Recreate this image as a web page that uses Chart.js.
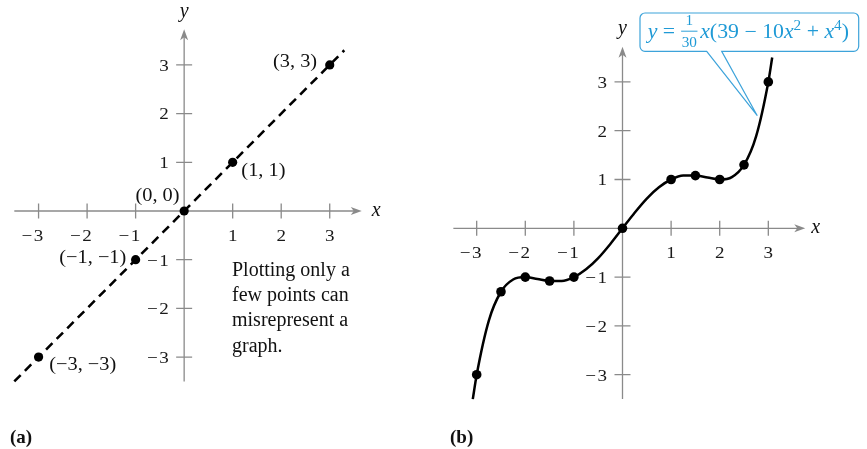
<!DOCTYPE html>
<html>
<head>
<meta charset="utf-8">
<script src="https://cdn.jsdelivr.net/npm/chart.js@4.4.1/dist/chart.umd.min.js"></script>
<style>
  html, body { margin: 0; padding: 0; background: #fff; }
  #wrap { position: relative; width: 867px; height: 449px; }
  canvas { position: absolute; top: 0; }
  #chartA { left: 0; }
  #chartB { left: 433px; }
</style>
</head>
<body>
<div id="wrap">
  <canvas id="chartA" width="433" height="449"></canvas>
  <canvas id="chartB" width="434" height="449"></canvas>
</div>
<script>
// ---- data: panel (a) ----
const pointsAX = [-3, -1, 0, 1, 3];
const pointsAY = [-3, -1, 0, 1, 3];
const pointLabelsA = ["(\u22123, \u22123)", "(\u22121, \u22121)", "(0, 0)", "(1, 1)", "(3, 3)"];
const lineAX = [-3.5, 3.3];
const lineAY = [-3.5, 3.3];
const noteLines = ["Plotting only a", "few points can", "misrepresent a", "graph."];

// ---- data: panel (b) ----
const pointsBX = [-3, -2.5, -2, -1.5, -1, 0, 1, 1.5, 2, 2.5, 3];
const pointsBY = [-3, -1.3, -1, -1.08, -1, 0, 1, 1.08, 1, 1.3, 3];
const curveBX = [-3.08, -3, -2.75, -2.5, -2.25, -2, -1.75, -1.5, -1.25, -1, -0.75, -0.5, -0.25, 0,
                 0.25, 0.5, 0.75, 1, 1.25, 1.5, 1.75, 2, 2.25, 2.5, 2.75, 3, 3.08];
const curveBY = [-3.5, -3, -1.89, -1.3, -1.05, -1, -1.04, -1.08, -1.08, -1, -0.84, -0.61, -0.32, 0,
                 0.32, 0.61, 0.84, 1, 1.08, 1.08, 1.04, 1, 1.05, 1.3, 1.89, 3, 3.5];

// ---- tick labels (shared) ----
const xTicks = [-3, -2, -1, 1, 2, 3];
const yTicks = [-3, -2, -1, 1, 2, 3];

const SERIF = '"Liberation Serif", "Times New Roman", serif';
const AXIS = "#8a8a8a";
const BLUE = "#1f9ad6";

// padding so that value 0 lands on a given pixel with a given unit size
function pad(origin, unit, min, max, size, invert) {
  if (!invert) return [origin + unit * min, size - (origin + unit * max)];
  return [origin - unit * max, size - (origin - unit * min)];
}

function text(ctx, s, x, y, font, align, sx) {
  sx = sx || 1;
  ctx.save();
  ctx.font = font;
  ctx.textBaseline = "alphabetic";
  const w = ctx.measureText(s).width * sx;
  let left = x;
  if (align === "right") left = x - w;
  else if (align === "center") left = x - w / 2;
  ctx.translate(left, y);
  ctx.scale(sx, 1);
  ctx.textAlign = "left";
  ctx.fillText(s, 0, 0);
  ctx.restore();
}

function tickNum(ctx, v, x, y, mode) {
  const font = "17px " + SERIF, sx = 1.12;
  ctx.font = font;
  const digit = String(Math.abs(v));
  const dw = ctx.measureText(digit).width * sx;
  const mw = ctx.measureText("\u2212").width * sx;
  let digitLeft;
  if (mode === "center") digitLeft = x - dw / 2;
  else digitLeft = x - dw;
  text(ctx, digit, digitLeft, y, font, "left", sx);
  if (v < 0) text(ctx, "\u2212", digitLeft - 1.5 - mw, y, font, "left", sx);
}

function arrowhead(ctx, tx, ty, dx, dy) {
  const L = 11, W = 4, N = 3;
  const px = -dy, py = dx;
  ctx.beginPath();
  ctx.moveTo(tx, ty);
  ctx.lineTo(tx - dx * L + px * W, ty - dy * L + py * W);
  ctx.lineTo(tx - dx * (L - N), ty - dy * (L - N));
  ctx.lineTo(tx - dx * L - px * W, ty - dy * L - py * W);
  ctx.closePath();
  ctx.fill();
}

function axesPlugin(ax) {
  return {
    id: "mathAxes",
    beforeDatasetsDraw(chart) {
      const { ctx } = chart;
      const x = chart.scales.x, y = chart.scales.y;
      const ox = x.getPixelForValue(0), oy = y.getPixelForValue(0);
      const x0 = x.getPixelForValue(ax.xFrom), x1 = x.getPixelForValue(ax.xTo);
      const y0 = y.getPixelForValue(ax.yFrom), y1 = y.getPixelForValue(ax.yTo);
      ctx.save();
      ctx.strokeStyle = AXIS;
      ctx.fillStyle = AXIS;
      ctx.lineWidth = 1.3;
      ctx.beginPath();
      ctx.moveTo(x0, oy); ctx.lineTo(x1 - 6, oy);
      ctx.moveTo(ox, y0); ctx.lineTo(ox, y1 + 6);
      xTicks.forEach(v => {
        const p = x.getPixelForValue(v);
        ctx.moveTo(p, oy - 7.5); ctx.lineTo(p, oy + 7.5);
      });
      yTicks.forEach(v => {
        const p = y.getPixelForValue(v);
        ctx.moveTo(ox - 8, p); ctx.lineTo(ox + 8, p);
      });
      ctx.stroke();
      arrowhead(ctx, x1, oy, 1, 0);
      arrowhead(ctx, ox, y1, 0, -1);
      ctx.fillStyle = "#1a1a1a";
      xTicks.forEach(v => tickNum(ctx, v, x.getPixelForValue(v), oy + ax.xLabelDy, "center"));
      yTicks.forEach(v => tickNum(ctx, v, ox - 15.5, y.getPixelForValue(v) + 5.8, "right"));
      ctx.fillStyle = "#111";
      text(ctx, "x", x1 + ax.xNameDx, oy + 4.5, "italic 20px " + SERIF, "left");
      text(ctx, "y", ox, y1 + ax.yNameDy, "italic 20px " + SERIF, "center");
      ctx.restore();
    }
  };
}

const baseOptions = (xr, yr, padding) => ({
  responsive: false,
  animation: false,
  events: [],
  layout: { padding },
  plugins: { legend: { display: false }, tooltip: { enabled: false } },
  scales: {
    x: { type: "linear", min: xr[0], max: xr[1], display: false },
    y: { type: "linear", min: yr[0], max: yr[1], display: false }
  }
});

// ---------- panel (a) ----------
const xRangeA = [-3.7, 3.9], yRangeA = [-3.7, 3.9];
const padXA = pad(182.3, 49, xRangeA[0], xRangeA[1], 433, false);
const padYA = pad(211, 48.7, yRangeA[0], yRangeA[1], 449, true);
const labelPlaceA = [
  { dx: 10.7, dy: 13, align: "left" },
  { dx: -9.3, dy: 3, align: "right" },
  { dx: -4.6, dy: -10, align: "right" },
  { dx: 8.7, dy: 14, align: "left" },
  { dx: -12.6, dy: 1.8, align: "right" }
];

const labelsA = {
  id: "labelsA",
  afterDatasetsDraw(chart) {
    const { ctx } = chart;
    const x = chart.scales.x, y = chart.scales.y;
    ctx.save();
    ctx.fillStyle = "#111";
    pointsAX.forEach((v, i) => {
      const p = labelPlaceA[i];
      text(ctx, pointLabelsA[i], x.getPixelForValue(v) + p.dx, y.getPixelForValue(pointsAY[i]) + p.dy,
        "18.5px " + SERIF, p.align, 1.1);
    });
    noteLines.forEach((s, i) => text(ctx, s, 232, 275.7 + i * 25.3, "20px " + SERIF, "left"));
    text(ctx, "(a)", 10, 443, "bold 19px " + SERIF, "left");
    ctx.restore();
  }
};

new Chart(document.getElementById("chartA"), {
  type: "scatter",
  data: {
    datasets: [
      {
        data: lineAX.map((v, i) => ({ x: v, y: lineAY[i] })),
        showLine: true,
        borderColor: "#000",
        borderWidth: 2.6,
        borderDash: [9, 6],
        pointRadius: 0
      },
      {
        data: pointsAX.map((v, i) => ({ x: v, y: pointsAY[i] })),
        showLine: false,
        pointRadius: 4.6,
        pointBackgroundColor: "#000",
        pointBorderColor: "#000",
        pointBorderWidth: 0
      }
    ]
  },
  options: baseOptions(xRangeA, yRangeA, { left: padXA[0], right: padXA[1], top: padYA[0], bottom: padYA[1] }),
  plugins: [axesPlugin({ xFrom: -3.5, xTo: 3.66, yFrom: -3.5, yTo: 3.73, xLabelDy: 29.7, xNameDx: 10, yNameDy: -12 }), labelsA]
});

// ---------- panel (b) ----------
const xRangeB = [-3.8, 4.1], yRangeB = [-3.8, 4.4];
const padXB = pad(188.7, 48.8, xRangeB[0], xRangeB[1], 434, false);
const padYB = pad(228.3, 48.8, yRangeB[0], yRangeB[1], 449, true);

function drawFormula(ctx, left, right, base) {
  const F = 20;
  const roman = F + "px " + SERIF, ital = "italic " + F + "px " + SERIF;
  const small = "14px " + SERIF, sup = "14px " + SERIF;
  const parts = [
    { t: "y", f: ital }, { t: " = ", f: roman },
    { frac: ["1", "30"], f: small }, { t: " ", f: "8px " + SERIF },
    { t: "x", f: ital }, { t: "(39 \u2212 10", f: roman }, { t: "x", f: ital },
    { t: "2", f: sup, up: 8 }, { t: " + ", f: roman }, { t: "x", f: ital },
    { t: "4", f: sup, up: 8 }, { t: ")", f: roman }
  ];
  let total = 0;
  parts.forEach(p => {
    ctx.font = p.f;
    p.w = p.frac ? Math.max(ctx.measureText(p.frac[0]).width, ctx.measureText(p.frac[1]).width) + 2
                 : ctx.measureText(p.t).width;
    total += p.w;
  });
  const sx = (right - left) / total;
  ctx.save();
  ctx.translate(left, base);
  ctx.scale(sx, 1);
  ctx.fillStyle = BLUE;
  ctx.strokeStyle = BLUE;
  ctx.textBaseline = "alphabetic";
  ctx.textAlign = "left";
  let cx = 0;
  parts.forEach(p => {
    ctx.font = p.f;
    if (p.frac) {
      ctx.textAlign = "center";
      ctx.fillText(p.frac[0], cx + p.w / 2, -12.3);
      ctx.fillText(p.frac[1], cx + p.w / 2, 9.6);
      ctx.lineWidth = 0.9;
      ctx.beginPath(); ctx.moveTo(cx + 0.5, -6.3); ctx.lineTo(cx + p.w - 0.5, -6.3); ctx.stroke();
      ctx.textAlign = "left";
    } else {
      ctx.fillText(p.t, cx, -(p.up || 0));
    }
    cx += p.w;
  });
  ctx.restore();
}

const calloutB = {
  id: "calloutB",
  afterDatasetsDraw(chart) {
    const { ctx } = chart;
    const L = 207, R = 425.7, T = 13, B = 51.3, r = 5;
    const tipX = 324.3, tipY = 115.7, baseL = 273.7, baseR = 288.7;
    ctx.save();
    ctx.beginPath();
    ctx.moveTo(L + r, T);
    ctx.lineTo(R - r, T);
    ctx.arcTo(R, T, R, T + r, r);
    ctx.lineTo(R, B - r);
    ctx.arcTo(R, B, R - r, B, r);
    ctx.lineTo(baseR, B);
    ctx.lineTo(tipX, tipY);
    ctx.lineTo(baseL, B);
    ctx.lineTo(L + r, B);
    ctx.arcTo(L, B, L, B - r, r);
    ctx.lineTo(L, T + r);
    ctx.arcTo(L, T, L + r, T, r);
    ctx.closePath();
    ctx.fillStyle = "#ffffff";
    ctx.fill();
    ctx.strokeStyle = "#3da3da";
    ctx.lineWidth = 1.2;
    ctx.stroke();
    drawFormula(ctx, 214.7, 416, 37.5);
    ctx.fillStyle = "#111";
    text(ctx, "(b)", 17, 443, "bold 19px " + SERIF, "left");
    ctx.restore();
  }
};

new Chart(document.getElementById("chartB"), {
  type: "scatter",
  data: {
    datasets: [
      {
        data: curveBX.map((v, i) => ({ x: v, y: curveBY[i] })),
        showLine: true,
        cubicInterpolationMode: "monotone",
        borderColor: "#000",
        borderWidth: 2.5,
        pointRadius: 0
      },
      {
        data: pointsBX.map((v, i) => ({ x: v, y: pointsBY[i] })),
        showLine: false,
        pointRadius: 4.8,
        pointBackgroundColor: "#000",
        pointBorderColor: "#000",
        pointBorderWidth: 0
      }
    ]
  },
  options: baseOptions(xRangeB, yRangeB, { left: padXB[0], right: padXB[1], top: padYB[0], bottom: padYB[1] }),
  plugins: [axesPlugin({ xFrom: -3.48, xTo: 3.76, yFrom: -3.5, yTo: 3.72, xLabelDy: 30, xNameDx: 6, yNameDy: -12.5 }), calloutB]
});
</script>
</body>
</html>
